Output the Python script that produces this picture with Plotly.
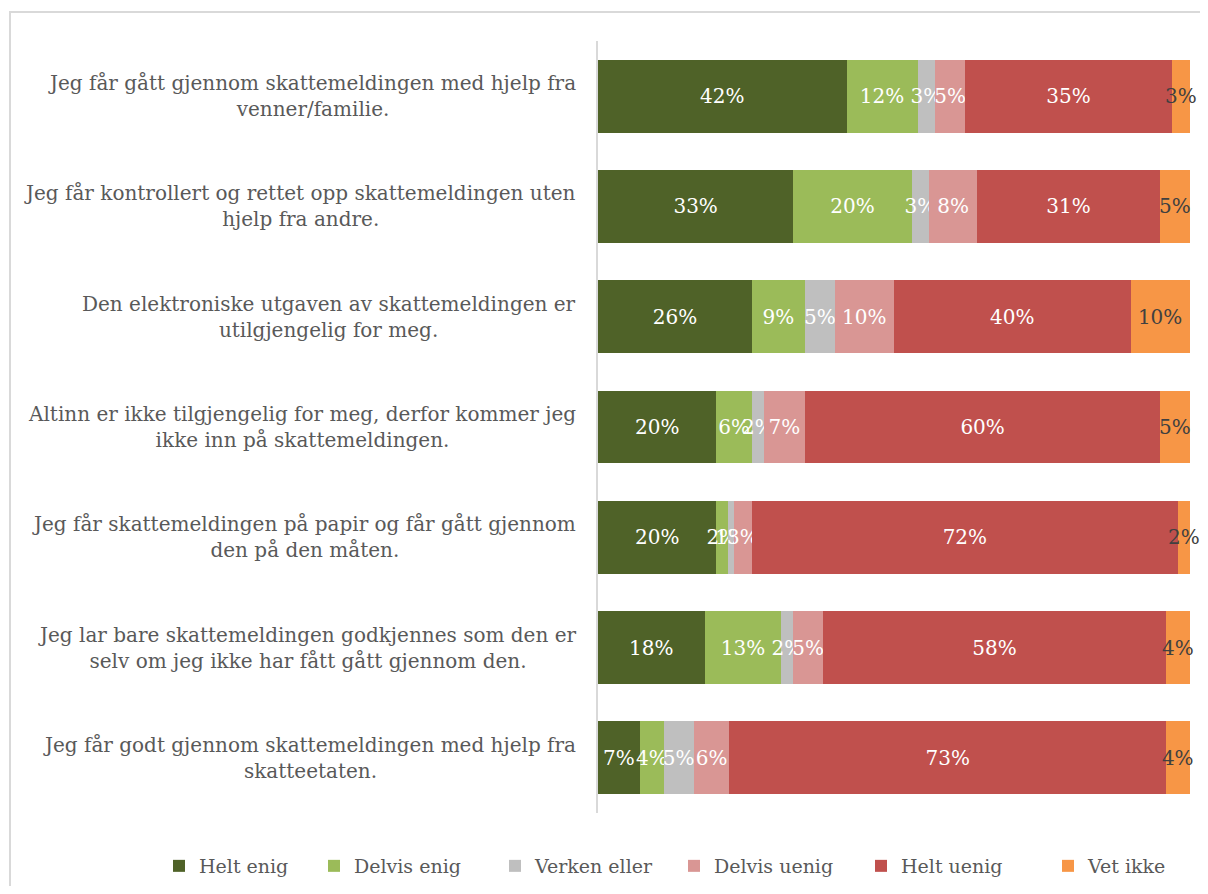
import plotly.graph_objects as go

categories = [
    "Jeg får gått gjennom skattemeldingen med hjelp fra<br>venner/familie.",
    "Jeg får kontrollert og rettet opp skattemeldingen uten<br>hjelp fra andre.",
    "Den elektroniske utgaven av skattemeldingen er<br>utilgjengelig for meg.",
    "Altinn er ikke tilgjengelig for meg, derfor kommer jeg<br>ikke inn på skattemeldingen.",
    "Jeg får skattemeldingen på papir og får gått gjennom<br>den på den måten.",
    "Jeg lar bare skattemeldingen godkjennes som den er<br>selv om jeg ikke har fått gått gjennom den.",
    "Jeg får godt gjennom skattemeldingen med hjelp fra<br>skatteetaten.",
]
series_names = ["Helt enig", "Delvis enig", "Verken eller", "Delvis uenig", "Helt uenig", "Vet ikke"]
helt_enig = [42, 33, 26, 20, 20, 18, 7]
delvis_enig = [12, 20, 9, 6, 2, 13, 4]
verken_eller = [3, 3, 5, 2, 1, 2, 5]
delvis_uenig = [5, 8, 10, 7, 3, 5, 6]
helt_uenig = [35, 31, 40, 60, 72, 58, 73]
vet_ikke = [3, 5, 10, 5, 2, 4, 4]

series_values = [helt_enig, delvis_enig, verken_eller, delvis_uenig, helt_uenig, vet_ikke]
colors = ["#4f6228", "#9bbb59", "#bfbfbf", "#d99694", "#c0504d", "#f79646"]
text_colors = ["white", "white", "white", "white", "white", "#404040"]

FONT = "DejaVu Serif"

# page body has an 8px margin; figure coordinates = screen - 8
OFF = 8
W, H = 1192, 878
ml, mr, mt, mb = 598 - OFF, W - (1190 - OFF), 41 - OFF, H - (813 - OFF)
pw, ph = W - ml - mr, H - mt - mb

def px_x(sx):
    return (sx - OFF - ml) / pw

def px_y(sy):
    return (H - mb - (sy - OFF)) / ph

legend_screen_x = [175, 330, 511, 690, 877, 1064]

fig = go.Figure()
for i, (name, vals, col, tcol) in enumerate(zip(series_names, series_values, colors, text_colors)):
    fig.add_trace(go.Bar(
        name=name, y=categories, x=vals, orientation="h",
        marker=dict(color=col, line=dict(width=0)),
        text=[f"{v}%" for v in vals],
        textposition="inside", insidetextanchor="middle", textangle=0,
        constraintext="none", cliponaxis=False,
        textfont=dict(family=FONT, size=20, color=tcol),
        hoverinfo="skip",
        legend="legend" if i == 0 else f"legend{i + 1}",
    ))

annotations = []
for c in categories:
    annotations.append(dict(
        x=px_x(578), xref="paper", y=c, yref="y", text=c,
        xanchor="right", yanchor="middle", align="center", showarrow=False,
        font=dict(family=FONT, size=20, color="#595959"),
    ))

layout = dict(
    width=W, height=H,
    margin=dict(l=ml, r=mr, t=mt, b=mb, autoexpand=False),
    barmode="stack", barnorm="percent", bargap=0.34,
    plot_bgcolor="white", paper_bgcolor="white",
    font=dict(family=FONT, color="#595959"),
    xaxis=dict(range=[0, 100.05], visible=False, fixedrange=True),
    yaxis=dict(categoryorder="array", categoryarray=categories, autorange="reversed",
               showticklabels=False, showline=True, linecolor="#d9d9d9", linewidth=2,
               showgrid=False, zeroline=False, ticks=""),
    annotations=annotations,
    shapes=[dict(type="rect", xref="paper", yref="paper", x0=px_x(10), x1=px_x(1240),
                 y0=px_y(930), y1=px_y(12), line=dict(color="#d9d9d9", width=2),
                 fillcolor="rgba(0,0,0,0)", layer="below")],
    showlegend=True,
)
for i, sx in enumerate(legend_screen_x):
    key = "legend" if i == 0 else f"legend{i + 1}"
    layout[key] = dict(orientation="h", x=px_x(sx - 16), xanchor="left", y=px_y(866),
                       yanchor="middle", bgcolor="rgba(0,0,0,0)",
                       font=dict(family=FONT, size=19, color="#595959"))

fig.update_layout(**layout)
fig.write_html("out.html")
